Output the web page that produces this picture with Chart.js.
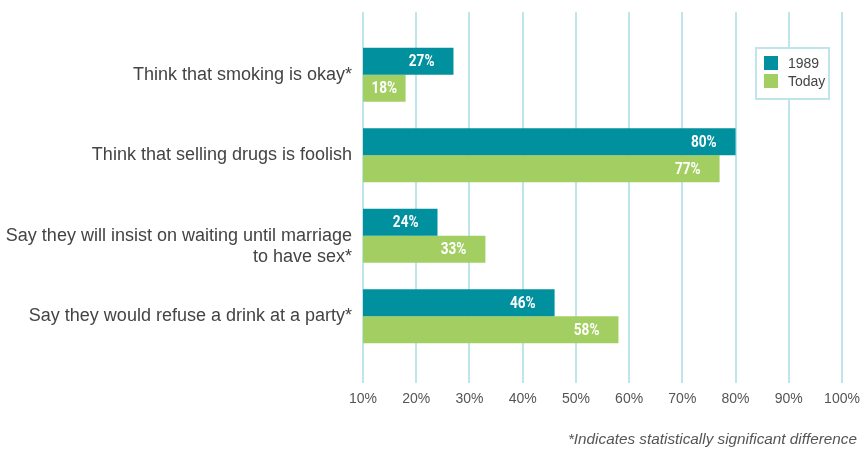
<!DOCTYPE html>
<html>
<head>
<meta charset="utf-8">
<script src="https://cdn.jsdelivr.net/npm/chart.js@4"></script>
<style>
  html, body { margin: 0; padding: 0; background: #fff; }
  #wrap { position: relative; width: 864px; height: 451px; }
  #note {
    position: absolute; right: 7px; top: 430px;
    font: italic 15.3px "Liberation Sans", Arial, sans-serif; color: #555;
  }
</style>
</head>
<body>
<div id="wrap">
  <canvas id="myChart" width="864" height="451"></canvas>
  <div id="note">*Indicates statistically significant difference</div>
</div>
<script>
const categories = [
  'Think that smoking is okay*',
  'Think that selling drugs is foolish',
  ['Say they will insist on waiting until marriage', 'to have sex*'],
  'Say they would refuse a drink at a party*'
];
const seriesNames = ['1989', 'Today'];
const values1989 = [27, 80, 24, 46];
const valuesToday = [18, 77, 33, 58];
const xTicks = [10, 20, 30, 40, 50, 60, 70, 80, 90, 100];

const TEAL = '#00909e';
const GREEN = '#a3cf62';
const GRID = '#bfe4ea';
const TEXT = '#444';

// value labels inside the bar ends, squeezed to look condensed
const barLabels = {
  id: 'barLabels',
  afterDatasetsDraw(chart) {
    const ctx = chart.ctx;
    const start = chart.scales.x.getPixelForValue(chart.scales.x.min);
    const sq = 0.85;
    ctx.save();
    ctx.font = 'bold 16px Roboto, "Liberation Sans", sans-serif';
    ctx.fillStyle = '#fff';
    ctx.textBaseline = 'middle';
    ctx.textAlign = 'left';
    chart.data.datasets.forEach((ds, di) => {
      chart.getDatasetMeta(di).data.forEach((bar, i) => {
        const txt = ds.data[i].x + '%';
        const w = ctx.measureText(txt).width * sq;
        let x = bar.x - 19 - w;
        if (x < start + 8) x = (start + bar.x - w) / 2;
        ctx.save();
        ctx.translate(x, bar.y + 1);
        ctx.scale(sq, 1);
        ctx.fillText(txt, 0, 0);
        ctx.restore();
      });
    });
    ctx.restore();
  }
};

// boxed legend in the upper right of the plot
const boxLegend = {
  id: 'boxLegend',
  afterDraw(chart) {
    const ctx = chart.ctx;
    const a = chart.chartArea;
    const bx = a.right - 86, by = a.top + 36, bw = 73, bh = 51;
    ctx.save();
    ctx.fillStyle = '#fff';
    ctx.fillRect(bx, by, bw, bh);
    ctx.strokeStyle = GRID;
    ctx.lineWidth = 2;
    ctx.strokeRect(bx, by, bw, bh);
    ctx.font = '14px "Liberation Sans", Arial, sans-serif';
    ctx.textBaseline = 'middle';
    chart.data.datasets.forEach((ds, i) => {
      ctx.fillStyle = ds.backgroundColor;
      ctx.fillRect(bx + 8, by + 8 + i * 18, 14, 14);
      ctx.fillStyle = TEXT;
      ctx.fillText(ds.label, bx + 32, by + 16 + i * 18);
    });
    ctx.restore();
  }
};

const ctx = document.getElementById('myChart').getContext('2d');
const myChart = new Chart(ctx, {
  type: 'bar',
  data: {
    datasets: [
      {
        label: seriesNames[0],
        data: values1989.map((v, i) => ({ x: v, y: i })),
        backgroundColor: TEAL
      },
      {
        label: seriesNames[1],
        data: valuesToday.map((v, i) => ({ x: v, y: i })),
        backgroundColor: GREEN
      }
    ]
  },
  options: {
    indexAxis: 'y',
    responsive: false,
    animation: false,
    layout: { padding: { top: 12, right: 22, bottom: 0, left: 0 } },
    datasets: {
      bar: { categoryPercentage: 0.67, barPercentage: 1, borderWidth: 0 }
    },
    scales: {
      x: {
        type: 'linear',
        min: xTicks[0],
        max: xTicks[xTicks.length - 1],
        afterBuildTicks: s => { s.ticks = xTicks.map(v => ({ value: v })); },
        afterFit: s => {
          s.height = 68;
          s.paddingLeft = 0;
          s.paddingRight = 0;
        },
        border: { display: false },
        grid: { color: GRID, lineWidth: 2, drawTicks: false },
        ticks: {
          padding: 8,
          color: '#555',
          font: { family: '"Liberation Sans", Arial, sans-serif', size: 14 },
          callback: v => v + '%'
        }
      },
      y: {
        type: 'linear',
        reverse: true,
        offset: false,
        min: -0.78,
        max: 3.83,
        afterBuildTicks: s => { s.ticks = categories.map((c, i) => ({ value: i })); },
        afterFit: s => {
          s.width = 363;
          s.paddingTop = 0;
          s.paddingBottom = 0;
        },
        border: { display: false },
        grid: { display: false, drawTicks: false, offset: false },
        ticks: {
          padding: 11,
          color: TEXT,
          font: { family: '"Liberation Sans", Arial, sans-serif', size: 18, lineHeight: 1.2 },
          callback: v => {
            const l = categories[v];
            return Array.isArray(l) ? ['', ...l] : l;
          }
        }
      }
    },
    plugins: {
      legend: { display: false },
      tooltip: { enabled: false }
    }
  },
  plugins: [barLabels, boxLegend]
});
</script>
</body>
</html>
